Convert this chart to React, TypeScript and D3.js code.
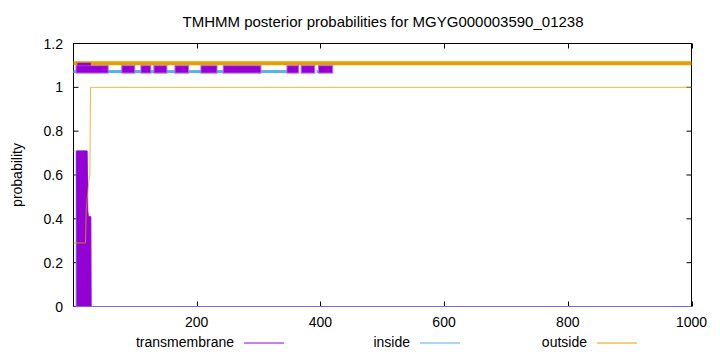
import React from "react";
import * as d3 from "d3";

const title = "TMHMM posterior probabilities for MGYG000003590_01238";
const xTicks = [200, 400, 600, 800, 1000];
const yTicks = [0, 0.2, 0.4, 0.6, 0.8, 1, 1.2];
const yTickLabels = ["0", "0.2", "0.4", "0.6", "0.8", "1", "1.2"];

// posterior probability curves (sequence position, probability)
const tmPos = [1, 5.5, 6, 23, 24, 25, 29, 29.5, 1000];
const tmProb = [0, 0, 0.71, 0.71, 0.44, 0.41, 0.41, 0, 0];
const insidePos = [1, 4.5, 5.5, 1000];
const insideProb = [0.71, 0.71, 0, 0];
const outsidePos = [1, 20.5, 21.5, 26, 27.5, 28.5, 1000];
const outsideProb = [0.29, 0.29, 0.44, 0.58, 0.6, 1, 1];

// predicted topology bars (start, end)
const tmSegStart = [5, 79, 110, 131, 165, 207, 243, 346, 369, 397];
const tmSegEnd = [57, 100, 126, 152, 187, 233, 304, 365, 391, 420];
const insideSegStart = [1, 394];
const insideSegEnd = [346, 399];
const outsideSegStart = [1];
const outsideSegEnd = [1000];

const legendNames = ["transmembrane", "inside", "outside"];
const colors = { tm: "#9400d3", inside: "#56b4e9", outside: "#e69f00" };

const W = 720, H = 352;
const FONT = "'Liberation Sans', Arial, Helvetica, sans-serif";

export default function App() {
  const x = d3.scaleLinear().domain([1, 1000]).range([73.5, 691.5]);
  const y = d3.scaleLinear().domain([0, 1.2]).range([306.5, 43.5]);

  const tmData = tmPos.map((p, i) => [p, tmProb[i]] as [number, number]);
  const inData = insidePos.map((p, i) => [p, insideProb[i]] as [number, number]);
  const outData = outsidePos.map((p, i) => [p, outsideProb[i]] as [number, number]);

  const area = d3.area<[number, number]>().x(d => x(d[0])).y0(y(0)).y1(d => y(d[1]));
  const line = d3.line<[number, number]>().x(d => x(d[0])).y(d => y(d[1]));

  const [x0, x1] = x.range();
  const [yb, yt] = y.range();
  const legendTextEnd = [234, 410, 587];
  const legendColors = [colors.tm, colors.inside, colors.outside];

  return (
    <svg width={W} height={H} style={{ position: "absolute", left: 0, top: 0, background: "#fff" }} fontFamily={FONT}>
      <rect x={0} y={0} width={W} height={H} fill="#fff" />
      <text x={383} y={27} fontSize={15} textAnchor="middle">{title}</text>

      {/* ticks */}
      {yTicks.map((t, i) => (
        <g key={"y" + i}>
          <line x1={x0} x2={x0 + 5} y1={y(t)} y2={y(t)} stroke="#000" strokeWidth={1} />
          <line x1={x1 - 5} x2={x1} y1={y(t)} y2={y(t)} stroke="#000" strokeWidth={1} />
          <text x={63} y={y(t) + 5} fontSize={14} textAnchor="end">{yTickLabels[i]}</text>
        </g>
      ))}
      {xTicks.map((t, i) => (
        <g key={"x" + i}>
          <line x1={Math.round(x(t)) + 0.5} x2={Math.round(x(t)) + 0.5} y1={yb} y2={yb - 5} stroke="#000" strokeWidth={1} />
          <line x1={Math.round(x(t)) + 0.5} x2={Math.round(x(t)) + 0.5} y1={yt} y2={yt + 5} stroke="#000" strokeWidth={1} />
          <text x={x(t)} y={327} fontSize={14} textAnchor="middle">{t}</text>
        </g>
      ))}

      {/* frame */}
      <rect x={x0} y={yt} width={x1 - x0} height={yb - yt} fill="none" stroke="#000" strokeWidth={1} />

      {/* topology bars */}
      {outsideSegStart.map((s, i) => (
        <rect key={"ob" + i} x={x(s)} y={y(1.11) - 2} width={x(outsideSegEnd[i]) - x(s)} height={4} fill={colors.outside} />
      ))}
      {insideSegStart.map((s, i) => (
        <rect key={"ib" + i} x={x(s)} y={y(1.072) - 1.5} width={x(insideSegEnd[i]) - x(s)} height={3} fill={colors.inside} />
      ))}
      {tmSegStart.map((s, i) => (
        <rect key={"tb" + i} x={x(s)} y={y(1.099)} width={x(tmSegEnd[i]) - x(s)} height={y(1.065) - y(1.099)}
          fill={colors.tm} stroke="#b868e4" strokeWidth={1} />
      ))}
      <rect x={x(7)} y={y(1.112)} width={x(29) - x(7)} height={y(1.099) - y(1.112)} fill={colors.tm} />

      {/* probability curves */}
      <path d={area(tmData) || ""} fill={colors.tm} stroke={colors.tm} strokeWidth={1} />
      <path d={line(inData) || ""} fill="none" stroke={colors.inside} strokeWidth={1} strokeOpacity={0.6} />
      <path d={line(outData) || ""} fill="none" stroke={colors.outside} strokeWidth={1} strokeOpacity={0.75} />

      <text transform={`translate(22,175) rotate(-90)`} fontSize={14} textAnchor="middle">probability</text>

      {/* legend */}
      {legendNames.map((n, i) => (
        <g key={"l" + i}>
          <text x={legendTextEnd[i]} y={347} fontSize={14} textAnchor="end">{n}</text>
          <line x1={legendTextEnd[i] + 10} x2={legendTextEnd[i] + 50} y1={343} y2={343} stroke={legendColors[i]} strokeWidth={1} />
        </g>
      ))}
    </svg>
  );
}
